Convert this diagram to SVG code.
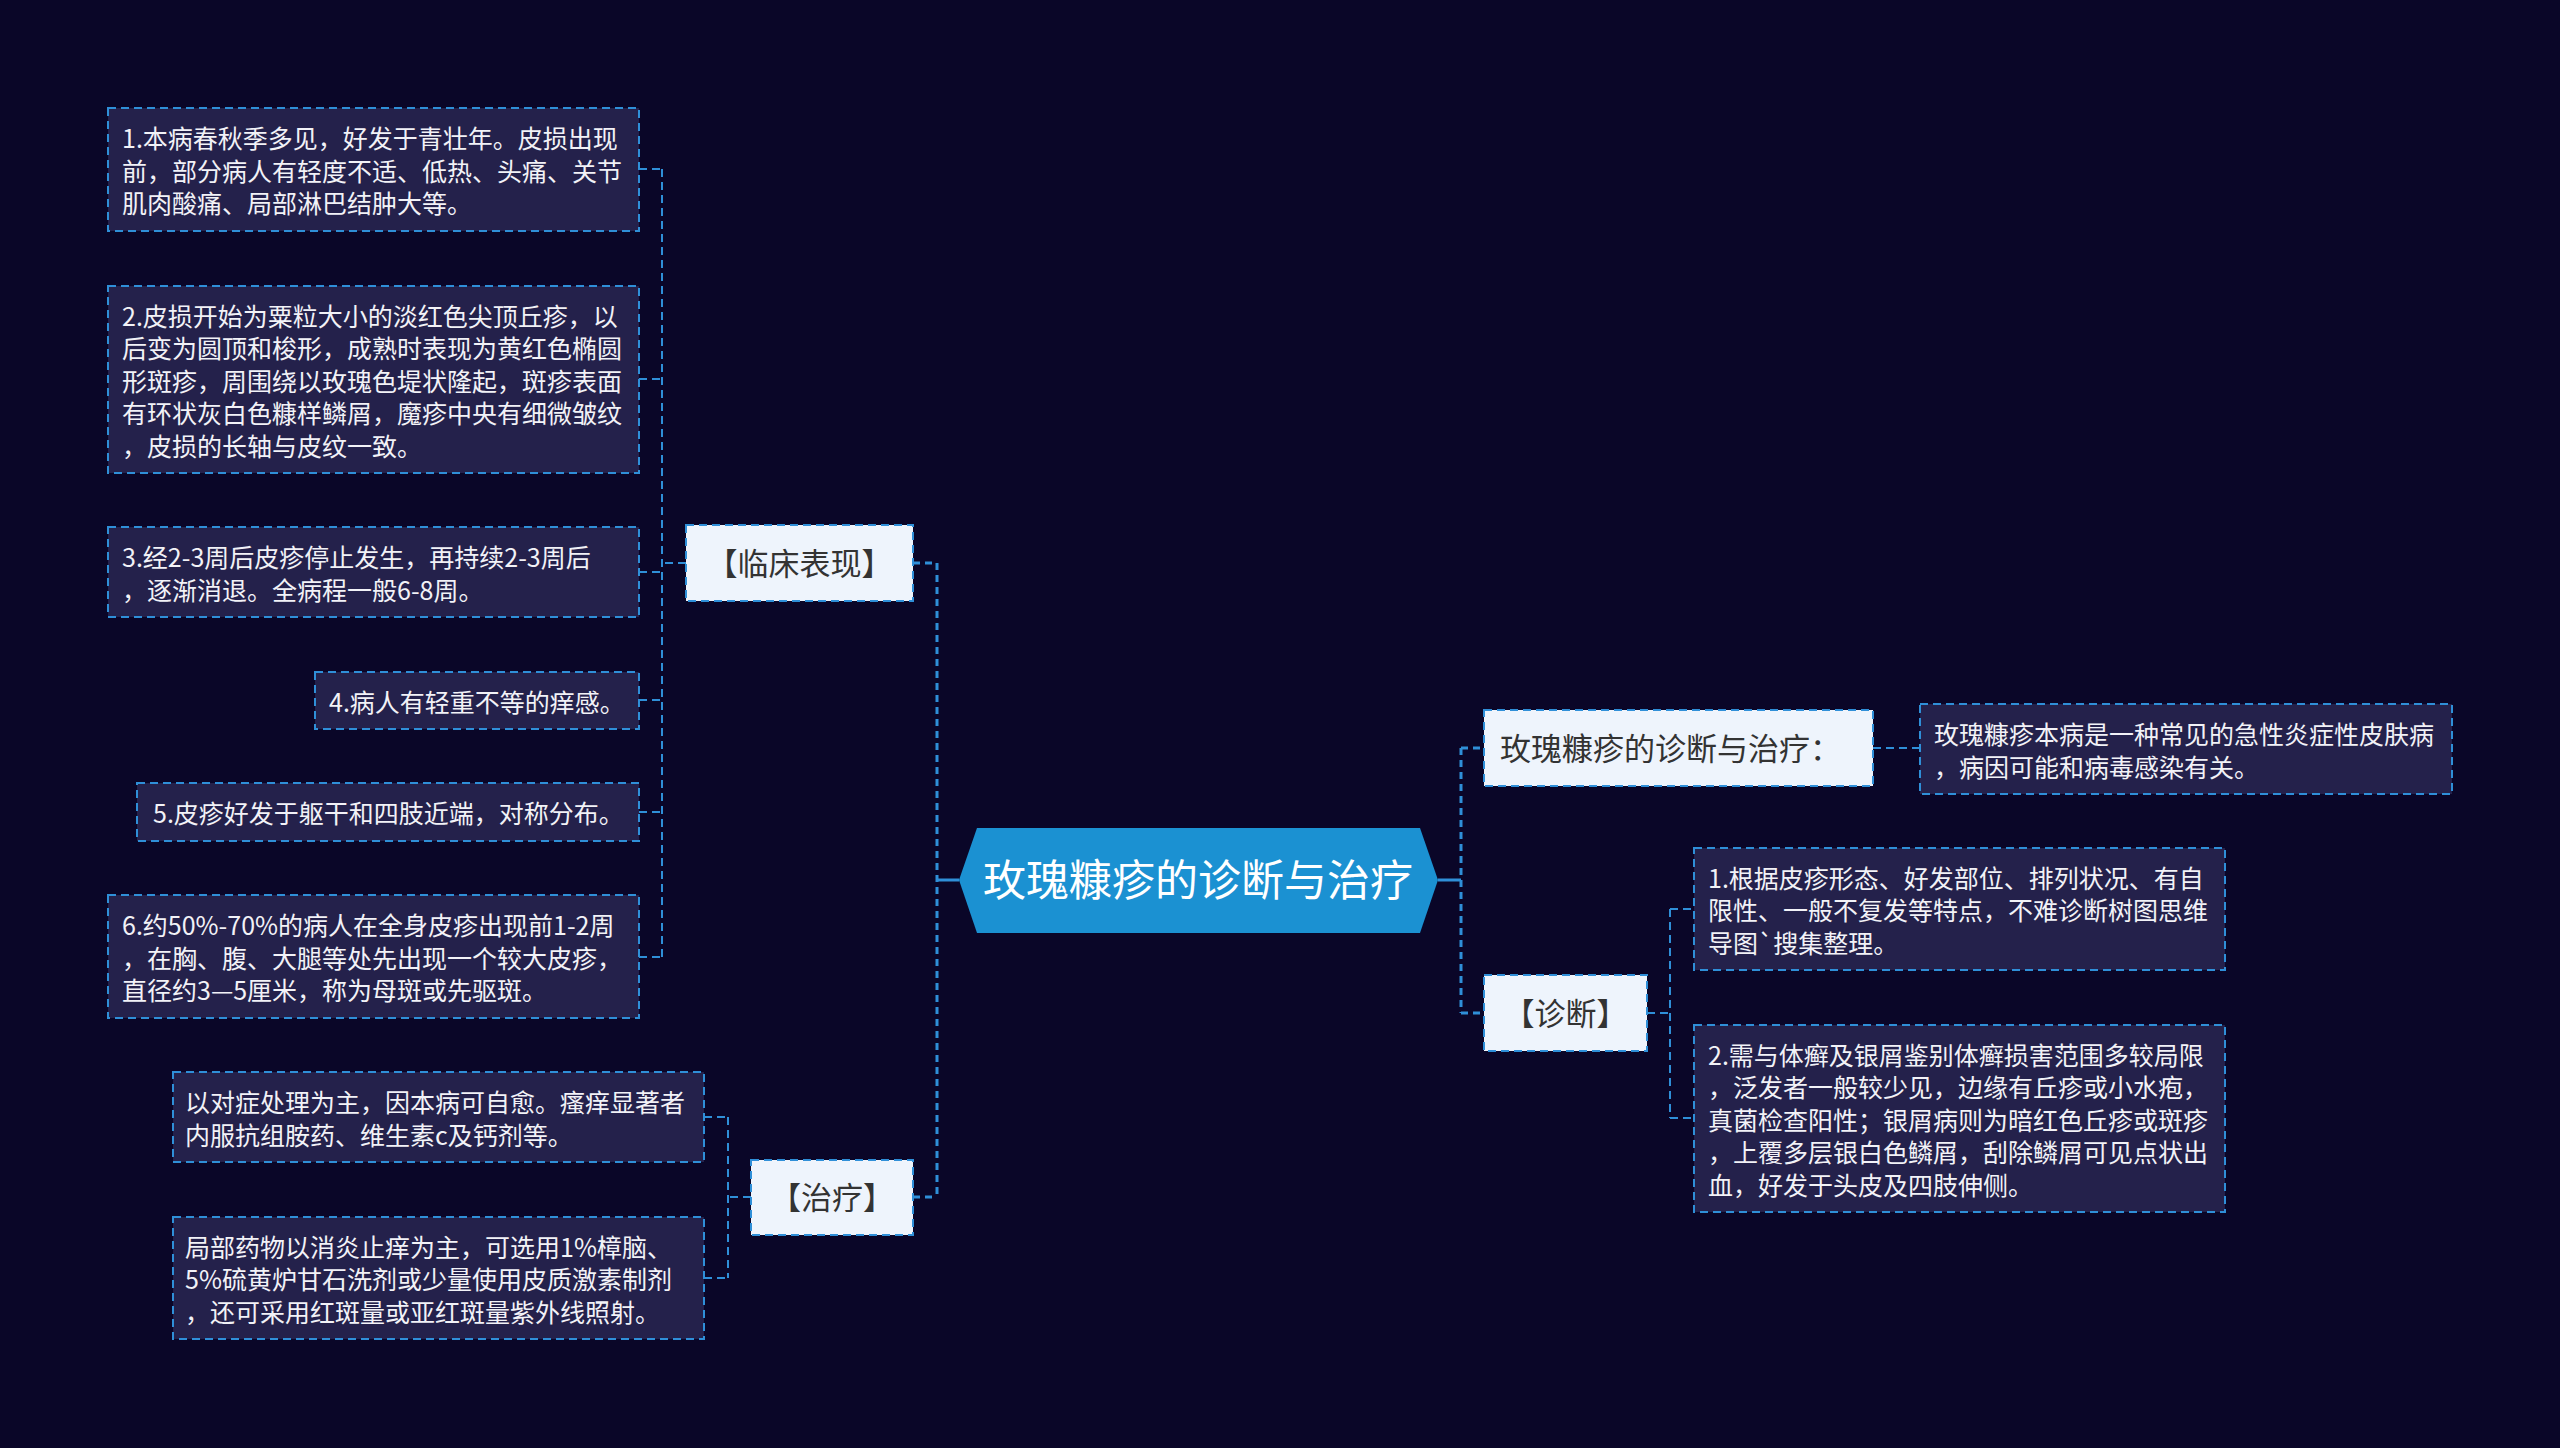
<svg xmlns="http://www.w3.org/2000/svg" width="2560" height="1448" viewBox="0 0 2560 1448">
<style>
.bg{fill:#0a0628}
.leaf rect{fill:#24214b;stroke:#2f8fd8;stroke-width:2;stroke-dasharray:8 5}
.leaf text{font-family:"Noto Sans CJK SC","Microsoft YaHei",sans-serif;font-size:25px;fill:#f2f2f7}
.l1 rect{fill:#eef4fc;stroke:#2f8fd8;stroke-width:2;stroke-dasharray:8 5}
.l1 text{font-family:"Noto Sans CJK SC","Microsoft YaHei",sans-serif;font-size:31px;fill:#333333}
.root polygon{fill:#1b91d2}
.root text{font-family:"Noto Sans CJK SC","Microsoft YaHei",sans-serif;font-size:43px;fill:#ffffff}
.c{fill:none;stroke:#2f8fd8;stroke-width:2;stroke-dasharray:8 5}
.cm{fill:none;stroke:#2f8fd8;stroke-width:3;stroke-dasharray:7 5}
.cs{fill:none;stroke:#2f8fd8;stroke-width:3}
</style>
<rect class="bg" x="0" y="0" width="2560" height="1448"/>

<g id="connectors">
  <path class="cs" d="M959 880 H937 M1438 880 H1461"/>
  <path class="cm" d="M937 563 V1197"/>
  <path class="cm" d="M913 563 H937 M913 1197 H937"/>
  <path class="cm" d="M1461 748 V1013"/>
  <path class="cm" d="M1461 748 H1484 M1461 1013 H1484"/>
  <path class="c" d="M686 563 H662"/>
  <path class="c" d="M662 169 V957"/>
  <path class="c" d="M639 169 H662 M639 379 H662 M639 572 H662 M639 700 H662 M639 812 H662 M639 957 H662"/>
  <path class="c" d="M751 1197 H728 M728 1117 V1278 M704 1117 H728 M704 1278 H728"/>
  <path class="c" d="M1873 748 H1920"/>
  <path class="c" d="M1647 1013 H1670 M1670 909 V1118 M1670 909 H1694 M1670 1118 H1694"/>
</g>

<g id="root" class="root">
  <polygon points="959,880 977,828 1420,828 1438,880 1420,933 977,933"/>
  <text x="1198" y="896" text-anchor="middle">玫瑰糠疹的诊断与治疗</text>
</g>

<g id="n-linchuang" class="l1">
  <rect x="686" y="525" width="227" height="76"/>
  <text x="799.5" y="575" text-anchor="middle">【临床表现】</text>
</g>
<g id="n-zhiliao" class="l1">
  <rect x="751" y="1160" width="162" height="75"/>
  <text x="832" y="1209" text-anchor="middle">【治疗】</text>
</g>
<g id="n-dingyi" class="l1">
  <rect x="1484" y="710" width="389" height="76"/>
  <text x="1500" y="760">玫瑰糠疹的诊断与治疗：</text>
</g>
<g id="n-zhenduan" class="l1">
  <rect x="1484" y="975" width="163" height="76"/>
  <text x="1565.5" y="1025" text-anchor="middle">【诊断】</text>
</g>

<g id="leaf-lc1" class="leaf">
  <rect x="108" y="108" width="531" height="123"/>
  <text x="122"><tspan x="122" y="148">1.本病春秋季多见，好发于青壮年。皮损出现</tspan><tspan x="122" y="180.5">前，部分病人有轻度不适、低热、头痛、关节</tspan><tspan x="122" y="213">肌肉酸痛、局部淋巴结肿大等。</tspan></text>
</g>
<g id="leaf-lc2" class="leaf">
  <rect x="108" y="286" width="531" height="187"/>
  <text x="122"><tspan x="122" y="325.5">2.皮损开始为粟粒大小的淡红色尖顶丘疹，以</tspan><tspan x="122" y="358">后变为圆顶和梭形，成熟时表现为黄红色椭圆</tspan><tspan x="122" y="390.5">形斑疹，周围绕以玫瑰色堤状隆起，斑疹表面</tspan><tspan x="122" y="423">有环状灰白色糠样鳞屑，魔疹中央有细微皱纹</tspan><tspan x="122" y="455.5">，皮损的长轴与皮纹一致。</tspan></text>
</g>
<g id="leaf-lc3" class="leaf">
  <rect x="108" y="527" width="531" height="90"/>
  <text x="122"><tspan x="122" y="567">3.经2-3周后皮疹停止发生，再持续2-3周后</tspan><tspan x="122" y="599.5">，逐渐消退。全病程一般6-8周。</tspan></text>
</g>
<g id="leaf-lc4" class="leaf">
  <rect x="315" y="672" width="324" height="57"/>
  <text x="329" y="711.5">4.病人有轻重不等的痒感。</text>
</g>
<g id="leaf-lc5" class="leaf">
  <rect x="137" y="783" width="502" height="58"/>
  <text x="153" y="823">5.皮疹好发于躯干和四肢近端，对称分布。</text>
</g>
<g id="leaf-lc6" class="leaf">
  <rect x="108" y="895" width="531" height="123"/>
  <text x="122"><tspan x="122" y="935">6.约50%-70%的病人在全身皮疹出现前1-2周</tspan><tspan x="122" y="967.5">，在胸、腹、大腿等处先出现一个较大皮疹，</tspan><tspan x="122" y="1000">直径约3—5厘米，称为母斑或先驱斑。</tspan></text>
</g>

<g id="leaf-zl1" class="leaf">
  <rect x="173" y="1072" width="531" height="90"/>
  <text x="185"><tspan x="185" y="1112">以对症处理为主，因本病可自愈。瘙痒显著者</tspan><tspan x="185" y="1144.5">内服抗组胺药、维生素c及钙剂等。</tspan></text>
</g>
<g id="leaf-zl2" class="leaf">
  <rect x="173" y="1217" width="531" height="122"/>
  <text x="185"><tspan x="185" y="1256.5">局部药物以消炎止痒为主，可选用1%樟脑、</tspan><tspan x="185" y="1289">5%硫黄炉甘石洗剂或少量使用皮质激素制剂</tspan><tspan x="185" y="1321.5">，还可采用红斑量或亚红斑量紫外线照射。</tspan></text>
</g>

<g id="leaf-dy1" class="leaf">
  <rect x="1920" y="704" width="532" height="90"/>
  <text x="1934"><tspan x="1934" y="744">玫瑰糠疹本病是一种常见的急性炎症性皮肤病</tspan><tspan x="1934" y="776.5">，病因可能和病毒感染有关。</tspan></text>
</g>

<g id="leaf-zd1" class="leaf">
  <rect x="1694" y="848" width="531" height="122"/>
  <text x="1708"><tspan x="1708" y="887.5">1.根据皮疹形态、好发部位、排列状况、有自</tspan><tspan x="1708" y="920">限性、一般不复发等特点，不难诊断树图思维</tspan><tspan x="1708" y="952.5">导图`搜集整理。</tspan></text>
</g>
<g id="leaf-zd2" class="leaf">
  <rect x="1694" y="1025" width="531" height="187"/>
  <text x="1708"><tspan x="1708" y="1064.5">2.需与体癣及银屑鉴别体癣损害范围多较局限</tspan><tspan x="1708" y="1097">，泛发者一般较少见，边缘有丘疹或小水疱，</tspan><tspan x="1708" y="1129.5">真菌检查阳性；银屑病则为暗红色丘疹或斑疹</tspan><tspan x="1708" y="1162">，上覆多层银白色鳞屑，刮除鳞屑可见点状出</tspan><tspan x="1708" y="1194.5">血，好发于头皮及四肢伸侧。</tspan></text>
</g>
</svg>
